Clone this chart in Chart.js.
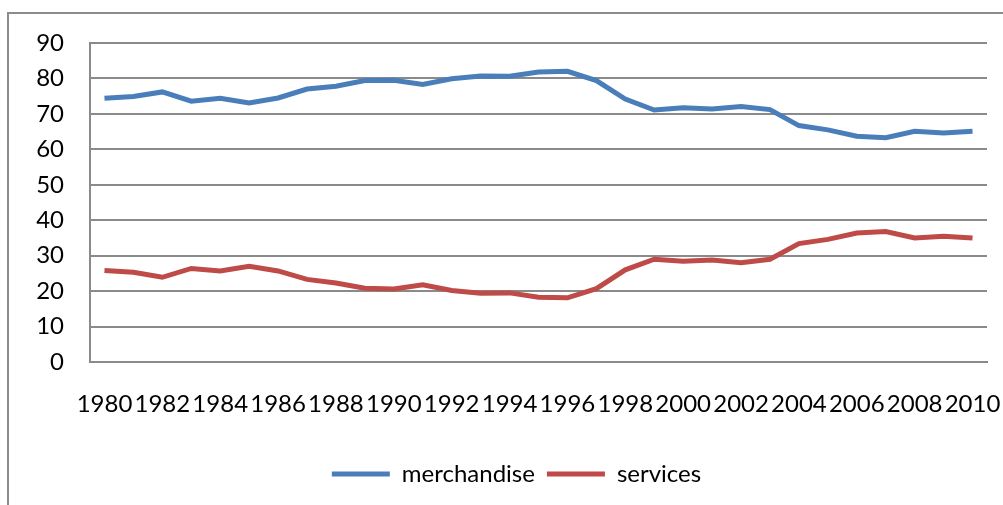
<!DOCTYPE html>
<html>
<head>
<meta charset="utf-8">
<script src="https://cdn.jsdelivr.net/npm/chart.js@4/dist/chart.umd.min.js"></script>
<style>
  html, body { margin: 0; padding: 0; background: #fff; overflow: hidden; }
  #frame {
    position: absolute; left: 7px; top: 12px;
    width: 1100px; height: 600px;
    border: 2px solid #8c8c8c;
  }
  #wrap { position: absolute; left: 0; top: 0; width: 1003px; height: 505px; }
</style>
</head>
<body>
<div id="frame"></div>
<div id="wrap"><canvas id="share-chart"></canvas></div>
<script>
// ---- Data ----
const years = [
  1980, 1981, 1982, 1983, 1984, 1985, 1986, 1987, 1988, 1989,
  1990, 1991, 1992, 1993, 1994, 1995, 1996, 1997, 1998, 1999,
  2000, 2001, 2002, 2003, 2004, 2005, 2006, 2007, 2008, 2009, 2010
];
const merchandise = [
  74.4, 74.9, 76.2, 73.6, 74.4, 73.1, 74.5, 77.0, 77.8, 79.4,
  79.5, 78.3, 79.9, 80.7, 80.6, 81.8, 82.0, 79.4, 74.2, 71.1,
  71.7, 71.4, 72.1, 71.2, 66.7, 65.5, 63.7, 63.3, 65.1, 64.6, 65.1
];
const services = [
  25.8, 25.3, 23.9, 26.4, 25.7, 27.0, 25.7, 23.3, 22.3, 20.8,
  20.6, 21.8, 20.2, 19.4, 19.5, 18.3, 18.1, 20.7, 26.0, 29.0,
  28.4, 28.8, 28.0, 29.0, 33.4, 34.6, 36.4, 36.8, 35.0, 35.5, 35.0
];
const yTicks = [0, 10, 20, 30, 40, 50, 60, 70, 80, 90];

const BLUE = '#4a7ebb';
const RED = '#be4b48';
const GRID = '#8a8a8a';
const FONT = { family: 'Lato, "Open Sans", sans-serif', size: 24 };

// Centre the legend under the plot area rather than the whole canvas
const legendUnderPlot = {
  id: 'legendUnderPlot',
  afterLayout(chart) {
    const legend = chart.legend;
    if (legend) {
      legend.left = chart.chartArea.left - 44;
      legend.right = chart.chartArea.right;
    }
  },
};

const ctx = document.getElementById('share-chart');
new Chart(ctx, {
  type: 'line',
  data: {
    labels: years,
    datasets: [
      {
        label: 'merchandise',
        data: merchandise,
        borderColor: BLUE,
        backgroundColor: BLUE,
        borderWidth: 5,
        pointRadius: 0,
        tension: 0,
      },
      {
        label: 'services',
        data: services,
        borderColor: RED,
        backgroundColor: RED,
        borderWidth: 5,
        pointRadius: 0,
        tension: 0,
      },
    ],
  },
  options: {
    responsive: true,
    maintainAspectRatio: false,
    animation: false,
    layout: { padding: { top: 43, right: 16, bottom: 9, left: 0 } },
    plugins: {
      tooltip: { enabled: false },
      legend: {
        position: 'bottom',
        labels: {
          usePointStyle: true,
          pointStyle: 'line',
          pointStyleWidth: 58,
          padding: 12,
          color: '#000',
          font: FONT,
        },
      },
    },
    scales: {
      x: {
        offset: true,
        grid: { display: false, drawTicks: false },
        border: { display: true, color: GRID, width: 2 },
        afterFit: (scale) => {
          scale.height = 88;
          // let the end labels spill past the plot edge
          scale.paddingLeft = 0;
          scale.paddingRight = 0;
        },
        ticks: {
          autoSkip: false,
          maxRotation: 0,
          padding: 28,
          color: '#000',
          font: FONT,
          callback: (val, i) => (i % 2 === 0 ? String(years[i]) : ''),
        },
      },
      y: {
        min: 0,
        max: 90,
        afterFit: (scale) => { scale.width = 90; },
        afterBuildTicks: (scale) => { scale.ticks = yTicks.map((v) => ({ value: v })); },
        grid: { color: GRID, lineWidth: 2, drawTicks: false },
        border: { display: true, color: GRID, width: 2 },
        ticks: {
          padding: 26,
          color: '#000',
          font: FONT,
        },
      },
    },
  },
  plugins: [legendUnderPlot],
});
</script>
</body>
</html>
